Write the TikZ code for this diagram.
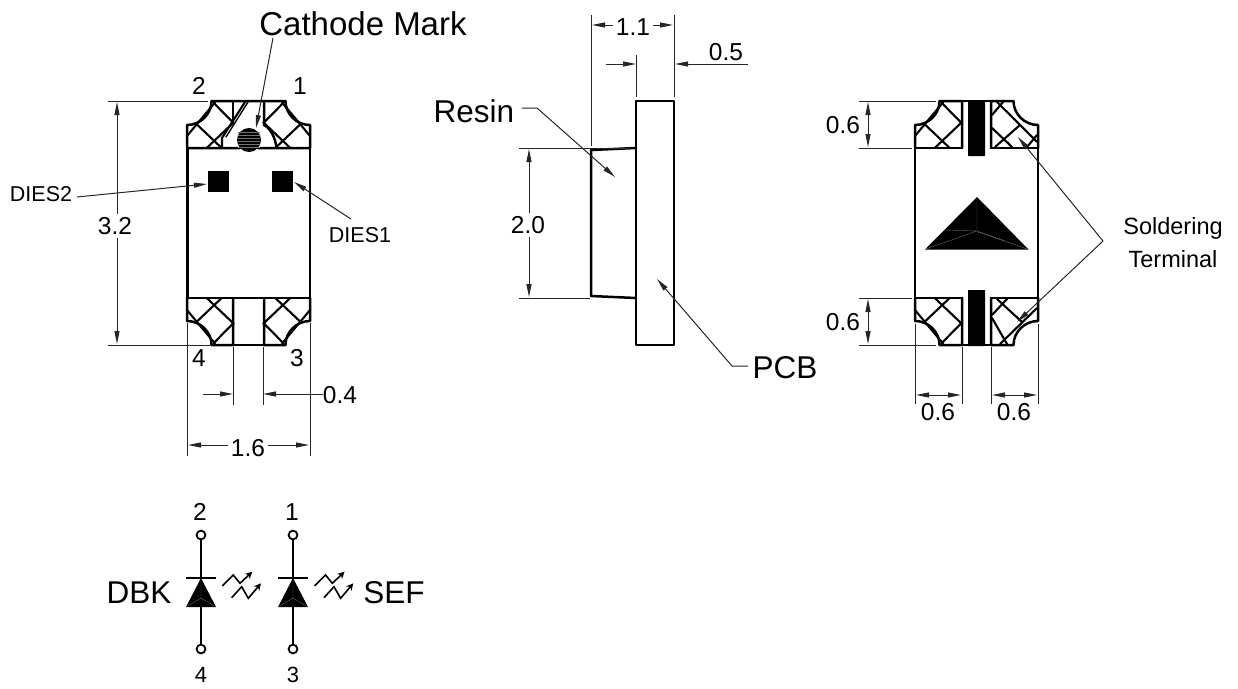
\documentclass[tikz,border=0pt]{standalone}
\usepackage{fontspec}
\setmainfont{Liberation Sans}
\usetikzlibrary{arrows.meta}
\tikzset{
 tipa/.tip={Triangle[length=13pt,width=5pt]},
 thk/.style={line width=2.5pt,line cap=round,line join=round},
 hat/.style={line width=2.1pt,line cap=round},
 thn/.style={line width=1pt,black!85},
 dim/.style={line width=1pt,black!85,-tipa},
 dimb/.style={line width=1pt,black!85,tipa-tipa},
 lbl/.style={inner sep=1pt,font=\fontsize{24.5}{24.5}\selectfont},
 lblw/.style={lbl,fill=white,inner sep=3pt},
 big/.style={inner sep=1pt,font=\fontsize{31.5}{31.5}\selectfont},
 small/.style={inner sep=1pt,font=\fontsize{21.5}{21.5}\selectfont},
 led/.style={line width=1.6pt,-{Stealth[length=7pt,width=7pt]}},
}
\newcommand{\outl}[4]{% cx, xscale, yscale, inner x: outline of one corner
\begin{scope}[shift={(#1,223)},xscale=#2,yscale=#3]
 \draw[thk] (-61.5,75) -- (-61.5,98) .. controls (-48,98) and (-37,109) .. (-37,122) -- (#4,122) -- (#4,75);
 \draw[thk] (-61.5,75) -- (#4,75);
\end{scope}}
\newcommand{\hatc}[3]{% cx, xscale, yscale: hatch of one corner
\begin{scope}[shift={(#1,223)},xscale=#2,yscale=#3]
 \draw[hat] (-26.8,75) -- (-51.8,98.7) -- (-33.5,120.5);
 \draw[hat] (-41.8,75) -- (-15.2,100.3) -- (-35.2,120.5);
 \draw[hat] (-61.5,87) -- (-51.8,98.7);
\end{scope}}
\newcommand{\diode}[1]{%
 \draw[line width=1.8pt] (#1,539.5) -- (#1,644.5);
 \draw[line width=1.8pt] (#1,535) circle (4.4);
 \draw[line width=1.8pt] (#1,649) circle (4.4);
 \draw[line width=1.9pt] (#1-15,578) -- (#1+15,578);
 \fill (#1,578) -- (#1+15,607) -- (#1-15,607) -- cycle;
 \draw[black!60,line width=0.4pt] (#1,598) -- (#1,578) (#1,598) -- (#1+14,606.5) (#1,598) -- (#1-14,606.5);
}
\newcommand{\leds}[1]{%
\begin{scope}[shift={(#1,0)}]
 \draw[led] (222.3,586) -- (233.3,575) -- (240,583.3) -- (252.3,571.7);
 \draw[led] (231.7,597.7) -- (241.7,586.7) -- (248.3,598.3) -- (261,583.3);
\end{scope}}
\begin{document}
\begin{tikzpicture}[x=1pt,y=-1pt]
\useasboundingbox (0,0) rectangle (1238,688);
% ---------- left device
\outl{248.5}{1}{1}{-15.5}
\outl{248.5}{-1}{1}{-15.5}
\draw[thk] (233,298) -- (264,298) (233,345) -- (264,345);
\hatc{248.5}{1}{1}
\hatc{248.5}{-1}{1}
\begin{scope}[shift={(248.5,223)},yscale=-1]
 \draw[thk] (-61.5,75) -- (-61.5,98) .. controls (-48,98) and (-37,109) .. (-37,122) -- (37,122) .. controls (37,109) and (48,98) .. (61.5,98) -- (61.5,75) -- cycle;
 \draw[hat] (-26.8,75) -- (-51.8,98.7) -- (-33.5,120.5);
 \draw[hat] (-41.8,75) -- (-15.2,100.3) -- (-35.2,120.5);
 \draw[hat] (-61.5,87) -- (-51.8,98.7);
 \draw[hat] (26.8,75) -- (51.8,98.7) -- (33.5,120.5);
 \draw[hat] (41.8,75) -- (15.2,100.3) -- (35.2,120.5);
 \draw[hat] (61.5,87) -- (51.8,98.7);
 \draw[thk] (-15.5,122) -- (-15.5,103);
 \draw[thk] (15.5,122) -- (15.5,98) .. controls (22,95) and (27,85) .. (28,75);
\end{scope}
\draw[hat] (245,102) -- (222,138) -- (222,148);
\draw[hat,line width=1.4pt] (248,102) -- (226,137);
\fill[white] (249,140) circle (13);
\draw[thk] (187,148) -- (310,148);
\fill (249,140) circle (12);
\foreach \yy in {132,135,138,141,144,147}{\draw[black!55,line width=0.4pt] (238,\yy) -- (260,\yy);}
\draw[thk] (187.5,148) -- (187.5,298) (310,148) -- (310,298);
\fill (207.7,170.7) rectangle (229.3,191.7);
\fill (271.7,170.7) rectangle (293.3,191.7);
\node[big,font=\fontsize{33}{33}\selectfont] (cm) at (363,24) {Cathode Mark};
\coordinate (cms) at (273,38);
\draw[thn,-tipa] (cms) -- (256,128);
\node[small] (d2) at (41,194) {DIES2};
\coordinate (d2s) at (77,197);
\draw[thn,-tipa] (d2s) -- (207,184);
\node[small] (d1) at (360,235) {DIES1};
\coordinate (d1s) at (351,219);
\draw[thn,-tipa] (d1s) -- (294,182);
\node[lbl] at (199,86) {2};
\node[lbl] at (300,86) {1};
\node[lbl] at (199,358) {4};
\node[lbl] at (297,358) {3};
\draw[thn] (108,101) -- (208,101) (108,345) -- (210,345);
\draw[dimb] (117,102) -- (117,344);
\node[lblw] at (115,226) {3.2};
\draw[thn] (233,347) -- (233,405) (263,347) -- (263,405);
\draw[thn] (187.5,323) -- (187.5,456) (310,323) -- (310,456);
\draw[dim] (203,394) -- (233,394);
\draw[dim] (323,394) -- (263,394);
\node[lbl] at (340,395) {0.4};
\draw[dimb] (188,445) -- (309,445);
\node[lblw] at (248,448) {1.6};
% ---------- side view
\draw[thk] (636,101) rectangle (674,345);
\draw[thk] (636,148) -- (591,150) -- (591,296) -- (636,298);
\draw[thn] (591,15) -- (591,146) (674,15) -- (674,97) (636,55) -- (636,97);
\draw[thn] (519,148) -- (630,148) (519,298) -- (590,298);
\draw[dimb] (592,25) -- (673,25);
\node[lblw] at (633,27) {1.1};
\draw[dim] (606,64) -- (636,64);
\draw[dim] (748,64) -- (675,64);
\node[lbl] at (726,52) {0.5};
\draw[dimb] (529,149) -- (529,297);
\node[lblw] at (528,225) {2.0};
\node[big] (resin) at (474,111) {Resin};
\coordinate (rs) at (522,108);
\coordinate (rm) at (537,108);
\draw[thn,-tipa] (rs) -- (rm) -- (615,177);
\node[big] (pcb) at (785,368) {PCB};
\coordinate (ps) at (748,366);
\coordinate (pm) at (732,366);
\draw[thn,-tipa] (ps) -- (pm) -- (657,279);
% ---------- right device
\outl{976.5}{1}{1}{-14.5}
\outl{976.5}{-1}{1}{-14.5}
\outl{976.5}{1}{-1}{-14.5}
\outl{976.5}{-1}{-1}{-14.5}
\draw[thk] (962,101) -- (991,101) (962,345) -- (991,345);
\hatc{976.5}{1}{1}
\hatc{976.5}{1}{-1}
% top right hatch
\draw[hat] (997,102) -- (1037,142) (1003,102) -- (992,115) (1020,125) -- (995,147) (992,128) -- (1012,147) (1037,135) -- (1027,147);
% bottom right hatch
\draw[hat] (1007,299) -- (992,315) (997,299) -- (1022,322) (992,318) -- (1007,344) (1037,308) -- (1000,344);
\draw[thk] (915,148) -- (915,298) (1038,148) -- (1038,298);
\fill[rounded corners=0.5pt] (968,101) rectangle (985,156);
\fill[rounded corners=0.5pt] (968,290) rectangle (985,346);
\fill (977,197) -- (1028.5,249.5) -- (925,249.5) -- cycle;
\draw[black!60,line width=0.4pt] (977,198) -- (977,231) (977,231) -- (926,249) (977,231) -- (1027,249) (977,231) -- (945,230);
\draw[black!60,line width=1pt,dashed,dash pattern=on 1pt off 1pt] (978,232) -- (1005,241);
\draw[thn] (859,101) -- (936,101) (859,148) -- (912,148) (859,298) -- (912,298) (859,345) -- (936,345);
\draw[dimb] (868,102) -- (868,147);
\draw[dimb] (868,299) -- (868,344);
\node[lbl] at (843,125) {0.6};
\node[lbl] at (843,322) {0.6};
\draw[thn] (915,324) -- (915,404) (962,347) -- (962,404) (991,347) -- (991,404) (1038,324) -- (1038,404);
\draw[dimb] (916,395) -- (961,395);
\draw[dimb] (992,395) -- (1037,395);
\node[lbl] at (938,412) {0.6};
\node[lbl] at (1014,412) {0.6};
\node[lbl,font=\fontsize{23.5}{23.5}\selectfont] (st1) at (1173,228) {Soldering};
\node[lbl,font=\fontsize{23.5}{23.5}\selectfont] (st2) at (1173,259) {Terminal};
\coordinate (sb) at (1103,241);
\draw[thn,-tipa] (sb) -- (1018,137);
\draw[thn,-tipa] (sb) -- (1017,322);
% ---------- schematic
\diode{201}
\diode{293}
\leds{0}
\leds{92.3}
\node[lbl] at (200,512) {2};
\node[lbl] at (292,512) {1};
\node[lbl,font=\fontsize{22}{22}\selectfont] at (201,675) {4};
\node[lbl,font=\fontsize{22}{22}\selectfont] at (293,675) {3};
\node[big] (dbk) at (139,593) {DBK};
\node[big] (sef) at (394,593) {SEF};
\end{tikzpicture}
\end{document}
